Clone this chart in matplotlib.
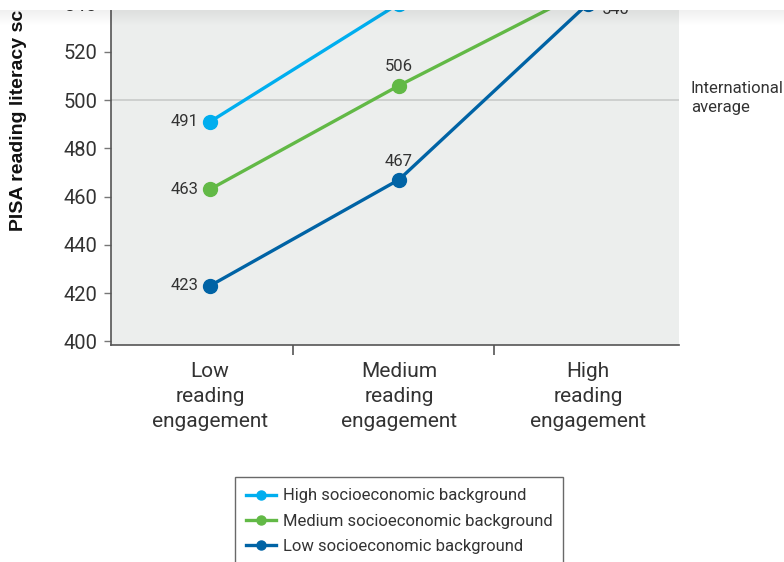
import matplotlib.pyplot as plt
import numpy as np
from matplotlib.patches import Rectangle

# PISA reading score by reading engagement and socio-economic background
engagement = ["Low\nreading\nengagement", "Medium\nreading\nengagement", "High\nreading\nengagement"]
series_names = ["High socioeconomic background",
                "Medium socioeconomic background",
                "Low socioeconomic background"]
high_ses = [491, 540, 583]
medium_ses = [463, 506, 546]
low_ses = [423, 467, 540]
intl_average = 500
yticks = [400, 420, 440, 460, 480, 500, 520, 540]

colors = ["#00aeef", "#62b946", "#0063a5"]
text_col = "#333333"
font = "Roboto"

W, H = 784, 562
fig = plt.figure(figsize=(W / 100, H / 100), dpi=100)

# axes run off the top of the canvas on purpose
ax = fig.add_axes([111 / W, (H - 345) / H, 568 / W, 486.25 / H])
ax.set_facecolor("#eceeed")
ax.set_xlim(-0.524, 2.481)
ax.set_ylim(398.45, 600)

x = np.arange(len(engagement))
ax.axhline(intl_average, color="#c9cbca", lw=1.2, zorder=1)

for vals, name, c in zip([high_ses, medium_ses, low_ses], series_names, colors):
    ax.plot(x, vals, color=c, lw=2.4, marker="o", ms=10, label=name, zorder=3)
    for i, v in enumerate(vals):
        if i == 0:
            off, ha, va = (-8, 0), "right", "center"
        elif i == 1:
            off, ha, va = (0, 8), "center", "bottom"
        else:
            off, ha, va = (10, -4), "left", "center"
        ax.annotate(str(v), (x[i], v), xytext=off, textcoords="offset points",
                    ha=ha, va=va, fontsize=12, color=text_col, family=font)

for s in ["top", "right"]:
    ax.spines[s].set_visible(False)
for s in ["left", "bottom"]:
    ax.spines[s].set_color("#555555")
    ax.spines[s].set_linewidth(1.2)

ax.set_yticks(yticks)
ax.set_yticklabels([str(t) for t in yticks], fontsize=14.5, color=text_col, family=font)
ax.tick_params(axis="y", length=5, width=1, color="#777777", pad=5)

ax.set_xticks(x)
ax.set_xticklabels(engagement, fontsize=15, color=text_col, family=font, linespacing=1.42)
ax.tick_params(axis="x", which="major", length=0, pad=12)
ax.set_xticks([0.44, 1.5], minor=True)
ax.tick_params(axis="x", which="minor", length=7, width=1.2, color="#555555")

fig.text(19 / W, (H - 231) / H, "PISA reading literacy score", rotation=90,
         ha="center", va="bottom", fontsize=14, fontweight="bold",
         family="Liberation Sans", color="#111111")

fig.text(691 / W, (H - 98) / H, "International\naverage", ha="left", va="center",
         fontsize=12, color=text_col, family=font, linespacing=1.35)

leg = fig.legend(loc="upper center", bbox_to_anchor=(399 / W, (H - 477) / H),
                 frameon=True, fancybox=False, edgecolor="#444444",
                 prop={"family": font, "size": 12}, handlelength=1.8,
                 markerscale=0.65, labelspacing=0.62, borderpad=0.68,
                 borderaxespad=0, handletextpad=0.4, labelcolor=text_col)
leg.get_frame().set_linewidth(1.0)

# white bar with a soft shadow across the top edge
fig.patches.append(Rectangle((0, 1 - 10 / H), 1, 10 / H, transform=fig.transFigure,
                             facecolor="white", edgecolor="none", zorder=20))
sh = fig.add_axes([0, 1 - 26 / H, 1, 16 / H], zorder=19)
grad = np.zeros((16, 2, 4))
grad[..., 3] = np.linspace(0.06, 0.0, 16)[:, None]
sh.imshow(grad, aspect="auto", extent=[0, 1, 0, 1])
sh.axis("off")

fig.savefig("out.png", dpi=100)
